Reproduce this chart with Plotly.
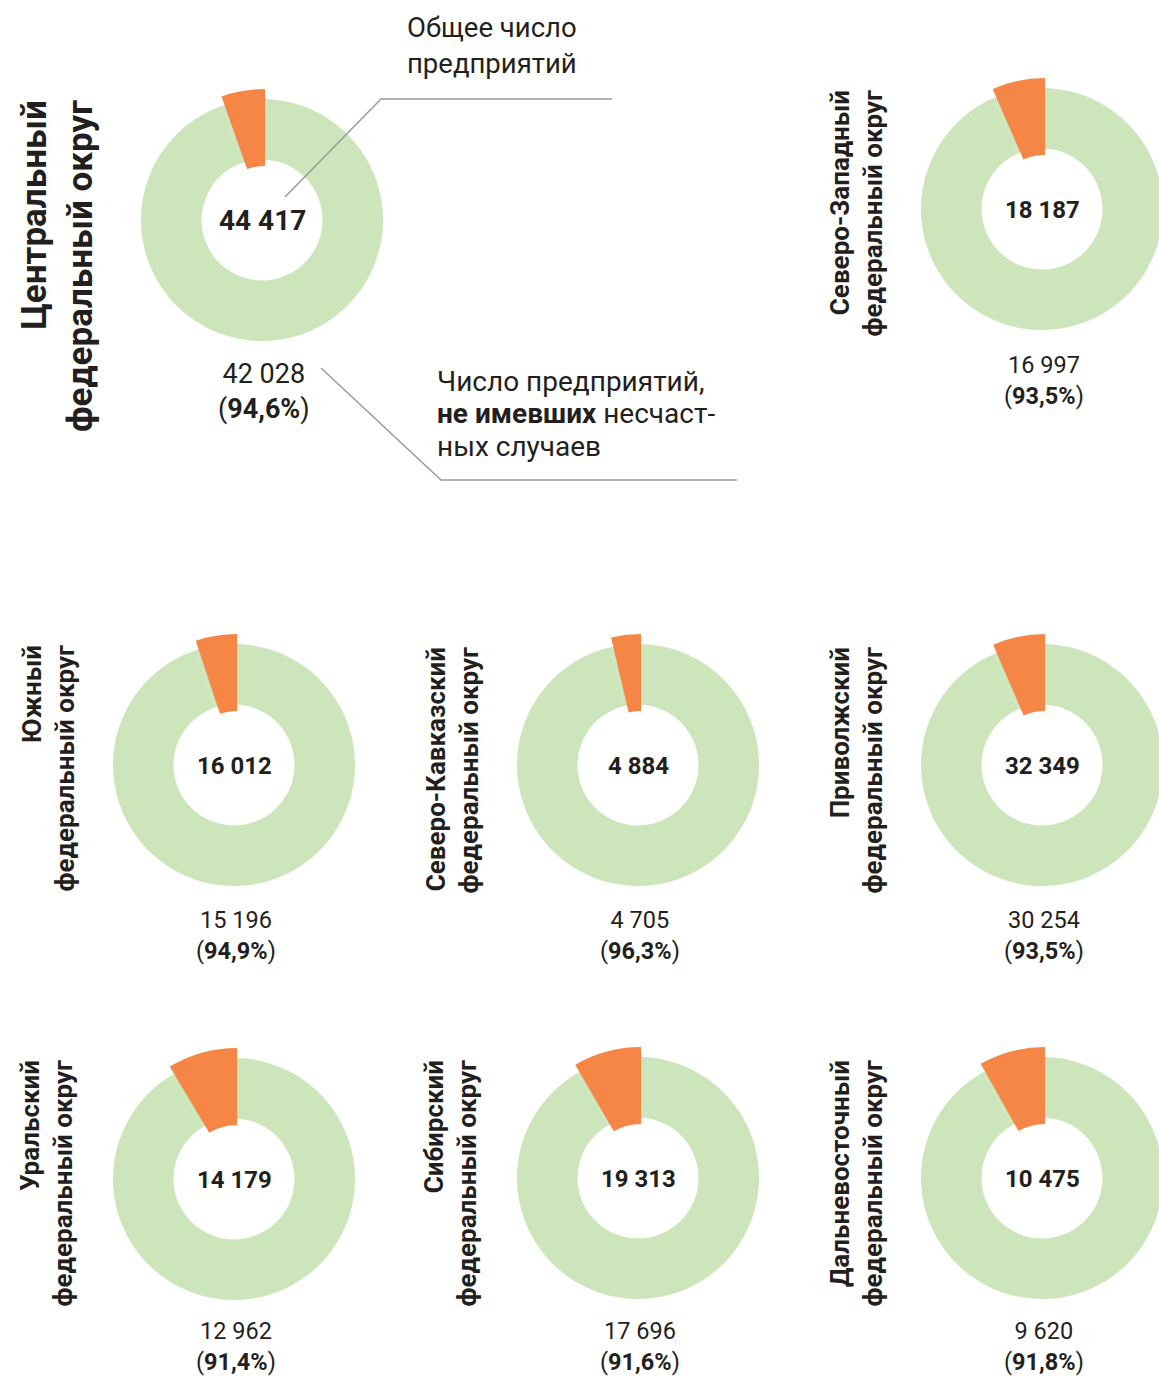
import plotly.graph_objects as go

# ---------------- data ----------------
regions = [
    "Центральный<br>федеральный округ",
    "Северо-Западный<br>федеральный округ",
    "Южный<br>федеральный округ",
    "Северо-Кавказский<br>федеральный округ",
    "Приволжский<br>федеральный округ",
    "Уральский<br>федеральный округ",
    "Сибирский<br>федеральный округ",
    "Дальневосточный<br>федеральный округ",
]
total_enterprises = [44417, 18187, 16012, 4884, 32349, 14179, 19313, 10475]
no_accident_enterprises = [42028, 16997, 15196, 4705, 30254, 12962, 17696, 9620]
no_accident_share = [94.6, 93.5, 94.9, 96.3, 93.5, 91.4, 91.6, 91.8]

callout_total_lines = ["Общее число", "предприятий"]
callout_none_lines = ["Число предприятий,", "<b>не имевших</b> несчаст-", "ных случаев"]

# ---------------- layout (pixels) ----------------
W, H = 1180, 1378
GREEN = "#cde5ba"
ORANGE = "#f58646"
TEXT = "#231f20"
FONT = "Roboto"

centers = [(262, 220), (1042, 209), (234, 765), (638, 765),
           (1042, 765), (234, 1179), (638, 1178), (1042, 1178)]
R_RING, R_HOLE = 121, 60.5
R_OUT, R_IN, ODX = 131, 54, 3
big = [True] + [False] * 7
# region label: (x centre, top y, font size)
label_pos = [(57, 98, 35), (856, 88, 26), (48, 643, 26), (452, 645, 26),
             (856, 645, 26), (46, 1058, 26), (450, 1058, 26), (856, 1058, 26)]
below_y = [391, 380, 935, 935, 935, 1346, 1346, 1346]
callout_total_y = [28, 63]
callout_none_y = [381, 414, 447]


def px(x):
    return x / W


def py(y):
    return 1 - y / H


def dom(cx, cy, r):
    return dict(x=[px(cx - r), px(cx + r)], y=[py(cy + r), py(cy - r)])


def fmt(v):
    return f"{v:,}".replace(",", " ")


fig = go.Figure()
annotations = []
for i in range(len(regions)):
    cx, cy = centers[i]
    acc = total_enterprises[i] - no_accident_enterprises[i]
    vals = [no_accident_enterprises[i], acc]
    labs = ["Без несчастных случаев", "С несчастными случаями"]
    fig.add_trace(go.Pie(
        values=vals, labels=labs, domain=dom(cx, cy, R_RING),
        hole=R_HOLE / R_RING, sort=False, direction="clockwise",
        rotation=0, textinfo="none", showlegend=False,
        marker=dict(colors=[GREEN, GREEN], line=dict(width=0)),
        hoverinfo="label+value"))
    fig.add_trace(go.Pie(
        values=vals, labels=labs, domain=dom(cx + ODX, cy, R_OUT),
        hole=R_IN / R_OUT, sort=False, direction="clockwise",
        rotation=0, textinfo="none", showlegend=False,
        marker=dict(colors=["rgba(0,0,0,0)", ORANGE], line=dict(width=0)),
        hoverinfo="label+value"))

    # centre total
    annotations.append(dict(
        x=px(cx), y=py(cy + 1), xref="paper", yref="paper",
        text=f"<b>{fmt(total_enterprises[i])}</b>", showarrow=False,
        xanchor="center", yanchor="middle",
        font=dict(family=FONT, size=28 if big[i] else 24, color=TEXT)))
    # below: no-accident count and share
    share = f"{no_accident_share[i]:.1f}".replace(".", ",")
    annotations.append(dict(
        x=px(cx + 2), y=py(below_y[i]), xref="paper", yref="paper",
        text=f"{fmt(no_accident_enterprises[i])}<br>(<b>{share}%</b>)",
        showarrow=False, xanchor="center", yanchor="middle", align="center",
        borderpad=0,
        font=dict(family=FONT, size=27 if big[i] else 23.5, color=TEXT)))
    # region label (rotated)
    lx, ly, ls = label_pos[i]
    annotations.append(dict(
        x=px(lx), y=py(ly), xref="paper", yref="paper",
        text=f"<b>{regions[i]}</b>", showarrow=False, textangle=-90,
        xanchor="center", yanchor="top", align="right",
        font=dict(family=FONT, size=ls, color=TEXT)))

# callouts (one annotation per line to keep the tight leading)
for t, y in zip(callout_total_lines, callout_total_y):
    annotations.append(dict(
        x=px(405), y=py(y), xref="paper", yref="paper", text=t,
        showarrow=False, xanchor="left", yanchor="middle", align="left",
        font=dict(family=FONT, size=27.5, color=TEXT)))
for t, y in zip(callout_none_lines, callout_none_y):
    annotations.append(dict(
        x=px(435), y=py(y), xref="paper", yref="paper", text=t,
        showarrow=False, xanchor="left", yanchor="middle", align="left",
        font=dict(family=FONT, size=28, color=TEXT)))

LINE = dict(color="#9b9b9b", width=1.5)
shapes = [
    dict(type="path", xref="paper", yref="paper", line=LINE,
         path=f"M {px(285)},{py(197)} L {px(381)},{py(99)} L {px(612)},{py(99)}"),
    dict(type="path", xref="paper", yref="paper", line=LINE,
         path=f"M {px(321)},{py(368)} L {px(441)},{py(480)} L {px(737)},{py(480)}"),
]

fig.update_layout(
    width=W, height=H, margin=dict(l=0, r=0, t=0, b=0, pad=0),
    paper_bgcolor="white", plot_bgcolor="white",
    annotations=annotations, shapes=shapes, showlegend=False,
)

fig.write_html(
    "out.html",
    config={"displayModeBar": False},
    post_script=(
        "document.body.style.margin='0';"
        "document.body.style.overflow='hidden';"
        "document.documentElement.style.overflow='hidden';"
    ),
)
